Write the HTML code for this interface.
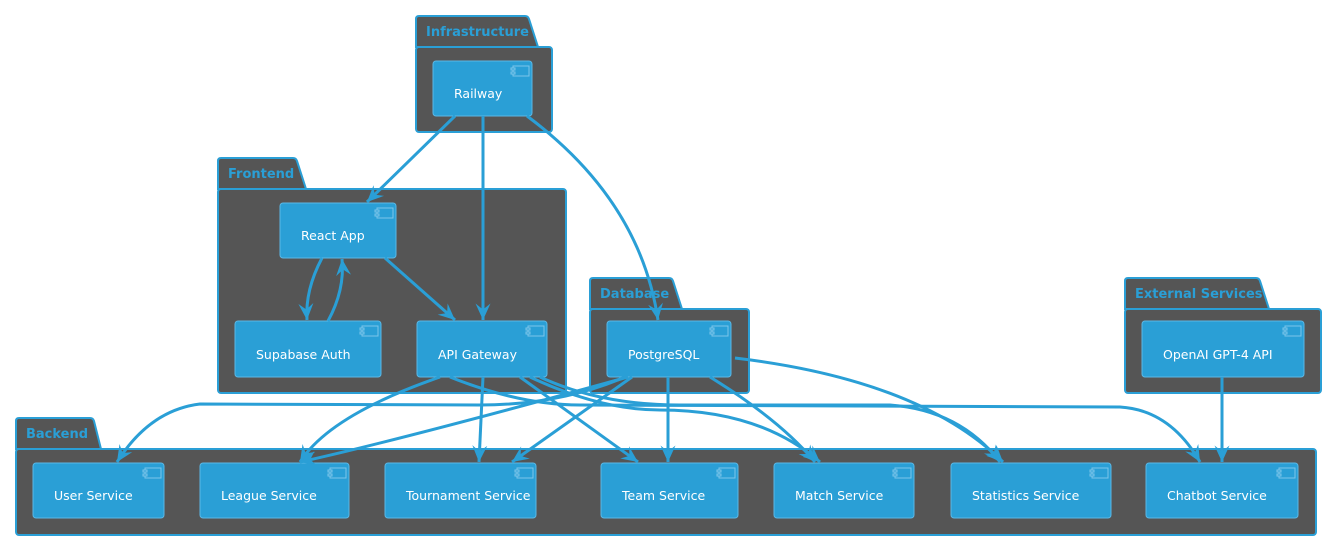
<!DOCTYPE html>
<html><head><meta charset="utf-8"><style>
html,body{margin:0;padding:0;background:#fff}
svg{display:block}
text{font-family:"DejaVu Sans","Liberation Sans",sans-serif}
</style></head><body>
<svg width="1332" height="546" viewBox="0 0 1332 546" xmlns="http://www.w3.org/2000/svg">
<defs>
<marker id="a" markerWidth="18" markerHeight="16" refX="11" refY="5" orient="auto" markerUnits="userSpaceOnUse" viewBox="0 0 12 10">
<path d="M0,0 L11,5 L0,10 L4,5 Z" fill="#2a9fd6"/>
</marker>
<symbol id="ic" viewBox="0 0 20 12"><rect x="3" y="1" width="16" height="10" fill="none" stroke="#7cc6ea" stroke-width="1"/><rect x="1" y="3" width="4" height="2" fill="#2a9fd6" stroke="#7cc6ea" stroke-width="1"/><rect x="1" y="7" width="4" height="2" fill="#2a9fd6" stroke="#7cc6ea" stroke-width="1"/></symbol>
</defs>
<g fill="#555" stroke="#2a9fd6" stroke-width="2">
<path d="M416,47 L416,19 Q416,16 419,16 L525,16 Q528,16 529,19 L538,47 Z"/>
<rect x="416" y="47" width="136" height="85" rx="3"/>
<path d="M218,189 L218,161 Q218,158 221,158 L293,158 Q296,158 297,161 L306,189 Z"/>
<rect x="218" y="189" width="348" height="204" rx="3"/>
<path d="M590,309 L590,281 Q590,278 593,278 L669,278 Q672,278 673,281 L682,309 Z"/>
<rect x="590" y="309" width="159" height="84" rx="3"/>
<path d="M1125,309 L1125,281 Q1125,278 1128,278 L1256,278 Q1259,278 1260,281 L1269,309 Z"/>
<rect x="1125" y="309" width="196" height="84" rx="3"/>
<path d="M16,449 L16,421 Q16,418 19,418 L90,418 Q93,418 94,421 L101,449 Z"/>
<rect x="16" y="449" width="1300" height="86" rx="3"/>
</g>
<g font-size="13" font-weight="bold" fill="#2a9fd6">
<text x="426" y="36">Infrastructure</text>
<text x="228" y="178">Frontend</text>
<text x="600" y="298">Database</text>
<text x="1135" y="298">External Services</text>
<text x="26" y="438">Backend</text>
</g>
<g fill="#2a9fd6" stroke="#5bb8e6" stroke-width="1">
<rect x="433" y="61" width="99" height="55" rx="3"/>
<rect x="280" y="203" width="116" height="55" rx="3"/>
<rect x="235" y="321" width="146" height="56" rx="3"/>
<rect x="417" y="321" width="130" height="56" rx="3"/>
<rect x="607" y="321" width="124" height="56" rx="3"/>
<rect x="1142" y="321" width="162" height="56" rx="3"/>
<rect x="33" y="463" width="131" height="55" rx="3"/>
<rect x="200" y="463" width="149" height="55" rx="3"/>
<rect x="385" y="463" width="151" height="55" rx="3"/>
<rect x="601" y="463" width="137" height="55" rx="3"/>
<rect x="774" y="463" width="140" height="55" rx="3"/>
<rect x="951" y="463" width="160" height="55" rx="3"/>
<rect x="1146" y="463" width="152" height="55" rx="3"/>
</g>
<g>
<use href="#ic" x="510" y="65" width="20" height="12"/>
<use href="#ic" x="374" y="207" width="20" height="12"/>
<use href="#ic" x="359" y="325" width="20" height="12"/>
<use href="#ic" x="525" y="325" width="20" height="12"/>
<use href="#ic" x="709" y="325" width="20" height="12"/>
<use href="#ic" x="1282" y="325" width="20" height="12"/>
<use href="#ic" x="142" y="467" width="20" height="12"/>
<use href="#ic" x="327" y="467" width="20" height="12"/>
<use href="#ic" x="514" y="467" width="20" height="12"/>
<use href="#ic" x="716" y="467" width="20" height="12"/>
<use href="#ic" x="892" y="467" width="20" height="12"/>
<use href="#ic" x="1089" y="467" width="20" height="12"/>
<use href="#ic" x="1276" y="467" width="20" height="12"/>
</g>
<g font-size="12.5" fill="#fff">
<text x="454" y="98">Railway</text>
<text x="301" y="240">React App</text>
<text x="256" y="359">Supabase Auth</text>
<text x="438" y="359">API Gateway</text>
<text x="628" y="359">PostgreSQL</text>
<text x="1163" y="359">OpenAI GPT-4 API</text>
<text x="54" y="500">User Service</text>
<text x="221" y="500">League Service</text>
<text x="406" y="500">Tournament Service</text>
<text x="622" y="500">Team Service</text>
<text x="795" y="500">Match Service</text>
<text x="972" y="500">Statistics Service</text>
<text x="1167" y="500">Chatbot Service</text>
</g>
<g fill="none" stroke="#2a9fd6" stroke-width="3" marker-end="url(#a)">
<path d="M455,116 L367,202"/>
<path d="M483,116 L483,320"/>
<path d="M527,116 Q640,200 658,320"/>
<path d="M322,258 Q305,290 307,320"/>
<path d="M328,321 Q345,290 342,259"/>
<path d="M385,258 L455,320"/>
<path d="M440,377 Q330,415 300,462"/>
<path d="M483,377 L479,462"/>
<path d="M520,377 L638,462"/>
<path d="M530,377 Q600,410 660,410 Q760,410 820,462"/>
<path d="M540,377 Q600,405 680,405 L890,405 Q960,410 1000,462"/>
<path d="M625,377 Q560,405 480,405 L200,404 Q150,410 117,462"/>
<path d="M450,377 Q520,405 580,405 L1120,407 Q1170,410 1200,462"/>
<path d="M628,377 Q400,440 300,462"/>
<path d="M632,377 L512,462"/>
<path d="M668,377 L668,462"/>
<path d="M710,377 Q780,420 815,462"/>
<path d="M735,358 Q920,380 1003,462"/>
<path d="M1222,377 L1222,462"/>
</g>
</svg>
</body></html>
